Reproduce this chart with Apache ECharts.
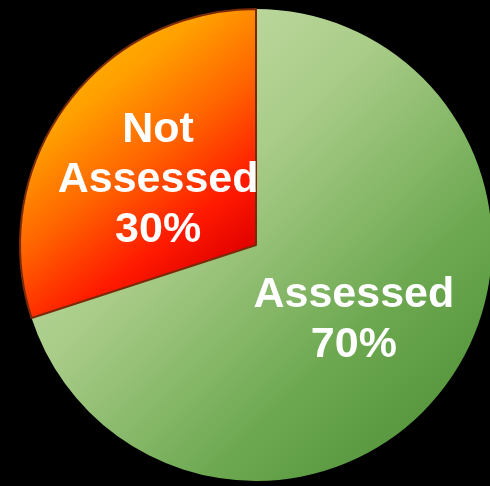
<!DOCTYPE html>
<html>
<head>
<meta charset="utf-8">
<script src="https://cdn.jsdelivr.net/npm/echarts@6/dist/echarts.min.js"></script>
<style>
  html, body { margin: 0; padding: 0; background: #000; }
  #chart { width: 490px; height: 486px; }
</style>
</head>
<body>
<div id="chart"></div>
<script>
// 数据
const categories = ['Assessed', 'Not\nAssessed'];
const values = [70, 30];

const colors = [
  new echarts.graphic.LinearGradient(0, 0, 1, 1, [
    { offset: 0, color: '#d2e6b6' },
    { offset: 0.4, color: '#a9cc88' },
    { offset: 0.7, color: '#6ca850' },
    { offset: 1, color: '#478a30' }
  ]),
  new echarts.graphic.LinearGradient(0, 0, 1, 1, [
    { offset: 0, color: '#ffc400' },
    { offset: 0.3, color: '#ffa000' },
    { offset: 0.5, color: '#ff6400' },
    { offset: 0.7, color: '#ff1a00' },
    { offset: 0.85, color: '#e00000' },
    { offset: 1, color: '#a00000' }
  ])
];
const borders = [
  { borderWidth: 0 },
  { borderColor: '#7a2a08', borderWidth: 2 }
];

const chart = echarts.init(document.getElementById('chart'));
chart.setOption({
  backgroundColor: '#000',
  animation: false,
  series: [
    {
      type: 'pie',
      center: [256, 245],
      radius: 236,
      startAngle: 90,
      clockwise: true,
      data: categories.map((name, i) => ({
        name: name,
        value: values[i],
        itemStyle: Object.assign({ color: colors[i] }, borders[i])
      })),
      label: {
        show: true,
        position: 'inside',
        formatter: '{b}\n{d}%',
        color: '#fff',
        fontFamily: 'Liberation Sans, Arial, sans-serif',
        fontWeight: 'bold',
        fontSize: 43,
        lineHeight: 50
      },
      labelLayout: function (params) {
        // 标签稍微往下移
        return { dy: params.dataIndex === 1 ? 6 : 4 };
      },
      labelLine: { show: false }
    }
  ]
});
</script>
</body>
</html>
